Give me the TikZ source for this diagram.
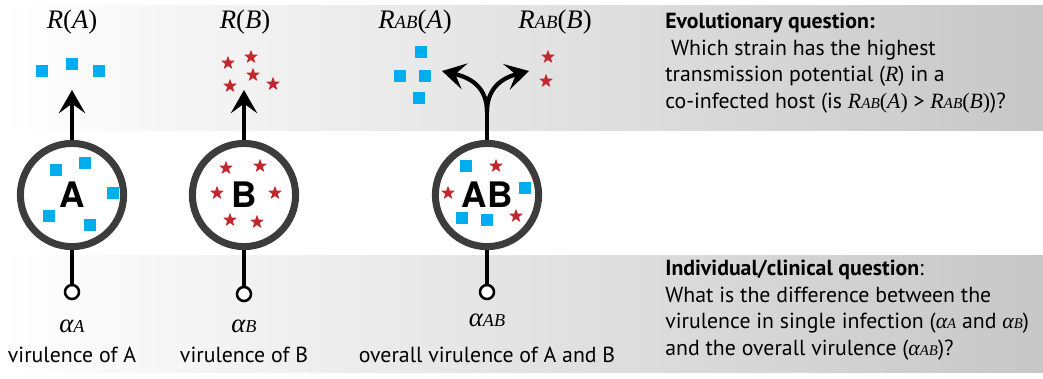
\documentclass[tikz,border=0pt]{standalone}
\usepackage{fontspec}
\setmainfont{PT Sans}
\newfontfamily\tms{Liberation Serif}
\newfontfamily\hlv{TeX Gyre Heros}
\usetikzlibrary{shapes.geometric,arrows.meta}

\definecolor{germblue}{HTML}{00AEEF}
\definecolor{germred}{HTML}{C1272D}
\definecolor{ringgray}{HTML}{3C3C3C}

\newcommand{\Rof}[1]{{\tms\itshape R}{\tms(}{\tms\itshape #1}{\tms)}}
\newcommand{\Rab}[1]{{\tms\itshape R{\fontsize{0.7em}{1em}\selectfont AB}}{\tms(}{\tms\itshape #1}{\tms)}}
\newcommand{\alf}[1]{{\tms\itshape α{\fontsize{0.68em}{1em}\selectfont #1}}}

\begin{document}
\begin{tikzpicture}[x=0.025cm,y=-0.025cm,
    host/.style={circle, draw=ringgray, line width=5pt, fill=white, minimum size=2.58cm,
      inner sep=0pt, font=\hlv\fontsize{25}{25}\bfseries\selectfont},
    sq/.style={fill=germblue, minimum size=0.32cm, inner sep=0pt},
    st/.style={star, star points=5, star point ratio=2.4, fill=germred, minimum size=0.36cm, inner sep=0pt},
    uparr/.style={line width=3pt, -{Stealth[length=0.58cm,width=0.66cm,inset=0.24cm]}},
    stem/.style={line width=3pt},
    dot/.style={circle, draw=black, line width=1.8pt, fill=white, minimum size=0.35cm, inner sep=0pt},
    lab/.style={font=\fontsize{19}{22}\selectfont},
    sub/.style={font=\fontsize{15.5}{18.8}\selectfont},
    txt/.style={font=\fontsize{15.5}{18.8}\selectfont, align=left, anchor=north west, inner sep=0pt}]
    \useasboundingbox (0,0) rectangle (1043,378);
    % grey bands
    \shade[left color=white, right color=black!22] (0,5) rectangle (1043,130);
    \shade[left color=white, right color=black!22] (0,255) rectangle (1043,372);
    % hosts
    \node[host] (hA) at (72,195) {A};
    \node[host] (hB) at (244,195) {B};
    \node[host] (hAB) at (487,195) {AB};
    % germs inside the hosts
    \foreach \p in {(56,170),(85,163),(113,193),(49,216),(90,225)} \node[sq] at \p {};
    \foreach \p in {(226,168),(260,166),(217,193),(275,193),(230,220),(257,222)} \node[st] at \p {};
    \foreach \p in {(466,166),(525,188),(462,218),(487,220)} \node[sq] at \p {};
    \foreach \p in {(496,166),(448,193),(516,216)} \node[st] at \p {};
    % transmitted germs
    \foreach \p in {(42,71),(72,64),(99,71)} \node[sq] at \p {};
    \foreach \p in {(228,63),(251,57),(253,75),(230,86),(273,84)} \node[st] at \p {};
    \foreach \p in {(421,52),(400,76),(425,76),(419,98)} \node[sq] at \p {};
    \foreach \p in {(548,57),(546,81)} \node[st] at \p {};
    % transmission arrows
    \coordinate (tA) at (72,90);
    \coordinate (tB) at (244,90);
    \coordinate (fork) at (487,112);
    \coordinate (tL) at (442,71);
    \coordinate (tR) at (529,71);
    \draw[uparr] (hA.north) -- (tA);
    \draw[uparr] (hB.north) -- (tB);
    \draw[stem] (hAB.north) -- (fork);
    \draw[uparr] (fork) .. controls (487,88) and (472,78) .. (tL);
    \draw[uparr] (fork) .. controls (487,88) and (502,78) .. (tR);
    % virulence ends
    \node[dot] (dA) at (72,292) {};
    \node[dot] (dB) at (244,294) {};
    \node[dot] (dAB) at (487,292) {};
    \draw[stem] (hA.south) -- (dA.north);
    \draw[stem] (hB.south) -- (dB.north);
    \draw[stem] (hAB.south) -- (dAB.north);
    % labels
    \node[lab] (lRA) at (72,22) {\Rof{A}};
    \node[lab] (lRB) at (245,22) {\Rof{B}};
    \node[lab] (lRAA) at (415,22) {\Rab{A}};
    \node[lab] (lRAB) at (555,22) {\Rab{B}};
    \node[lab] (aA) at (72,326) {\alf{A}};
    \node[lab] (aB) at (244,326) {\alf{B}};
    \node[lab] (aAB) at (487,320) {\alf{AB}};
    \node[sub] (vA) at (72,355) {virulence of A};
    \node[sub] (vB) at (244,355) {virulence of B};
    \node[sub] (vAB) at (487,355) {overall virulence of A and B};
    % questions
    \node[txt] (qEvo) at (665,13) {\textbf{Evolutionary question:}\\
      \ Which strain has the highest\\
      transmission potential ({\tms\itshape R}) in a\\
      co-infected host (is \Rab{A} > \Rab{B})?};
    \node[txt] (qCli) at (665,260) {\textbf{Individual/clinical question}:\\
      What is the difference between the\\
      virulence in single infection (\alf{A} and \alf{B})\\
      and the overall virulence (\alf{AB})?};
\end{tikzpicture}
\end{document}
